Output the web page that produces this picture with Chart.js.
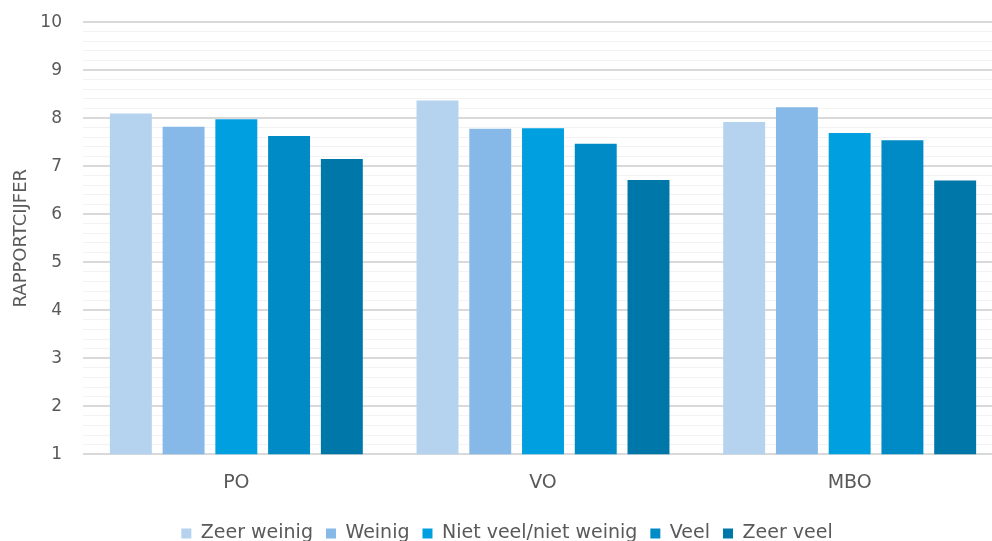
<!DOCTYPE html>
<html>
<head>
<meta charset="utf-8">
<script src="https://cdn.jsdelivr.net/npm/chart.js@4"></script>
<style>
  html, body { margin: 0; padding: 0; background: #fff; overflow: hidden; }
  #wrap { width: 1003px; height: 562px; position: relative; top: -9px; }
</style>
</head>
<body>
<div id="wrap"><canvas id="chart"></canvas></div>
<script>
// Chart data
const categories = ['PO', 'VO', 'MBO'];
const seriesNames = ['Zeer weinig', 'Weinig', 'Niet veel/niet weinig', 'Veel', 'Zeer veel'];
const zeerWeinig = [8.10, 8.37, 7.92];
const weinig = [7.82, 7.78, 8.23];
const nietVeelNietWeinig = [7.98, 7.79, 7.69];
const veel = [7.63, 7.47, 7.54];
const zeerVeel = [7.15, 6.71, 6.70];
const yMin = 1, yMax = 10, yStep = 0.2;

const colors = ['#b5d3ee', '#86b9e7', '#009fe0', '#008bc6', '#0077a9'];
const seriesValues = [zeerWeinig, weinig, nietVeelNietWeinig, veel, zeerVeel];

const textColor = '#595959';
Chart.defaults.font.family = '"DejaVu Sans", sans-serif';
Chart.defaults.color = textColor;

function isMajor(v) {
    return Math.abs(v - Math.round(v)) < 1e-6;
}

const ctx = document.getElementById('chart').getContext('2d');
new Chart(ctx, {
    type: 'bar',
    data: {
        labels: categories,
        datasets: seriesValues.map((vals, i) => ({
            label: seriesNames[i],
            data: vals,
            backgroundColor: colors[i],
            borderWidth: 0,
            categoryPercentage: 0.86,
            barPercentage: 0.795
        }))
    },
    options: {
        responsive: true,
        maintainAspectRatio: false,
        animation: false,
        layout: { autoPadding: false, padding: { top: 21, left: 11, right: 0, bottom: 0 } },
        plugins: {
            tooltip: { enabled: false },
            legend: {
                position: 'bottom',
                labels: {
                    boxWidth: 10,
                    boxHeight: 10,
                    padding: 13,
                    font: { size: 19 },
                    color: textColor
                }
            }
        },
        scales: {
            x: {
                grid: { display: false, drawTicks: false },
                border: { display: false },
                ticks: { font: { size: 19 }, padding: 17, color: textColor }
            },
            y: {
                min: yMin,
                max: yMax,
                border: { display: false },
                afterFit: scale => { scale.width = 72; },
                grid: {
                    drawTicks: false,
                    color: c => isMajor(c.tick.value) ? '#d9d9d9' : '#f2f2f2',
                    lineWidth: c => isMajor(c.tick.value) ? 2 : 1
                },
                ticks: {
                    stepSize: yStep,
                    autoSkip: false,
                    padding: 21,
                    font: { size: 17 },
                    color: textColor,
                    callback: v => isMajor(v) ? Math.round(v) : ''
                },
                title: {
                    display: true,
                    text: 'RAPPORTCIJFER',
                    font: { size: 18 },
                    color: textColor,
                    padding: { top: 0, bottom: 0 }
                }
            }
        }
    }
});
</script>
</body>
</html>
